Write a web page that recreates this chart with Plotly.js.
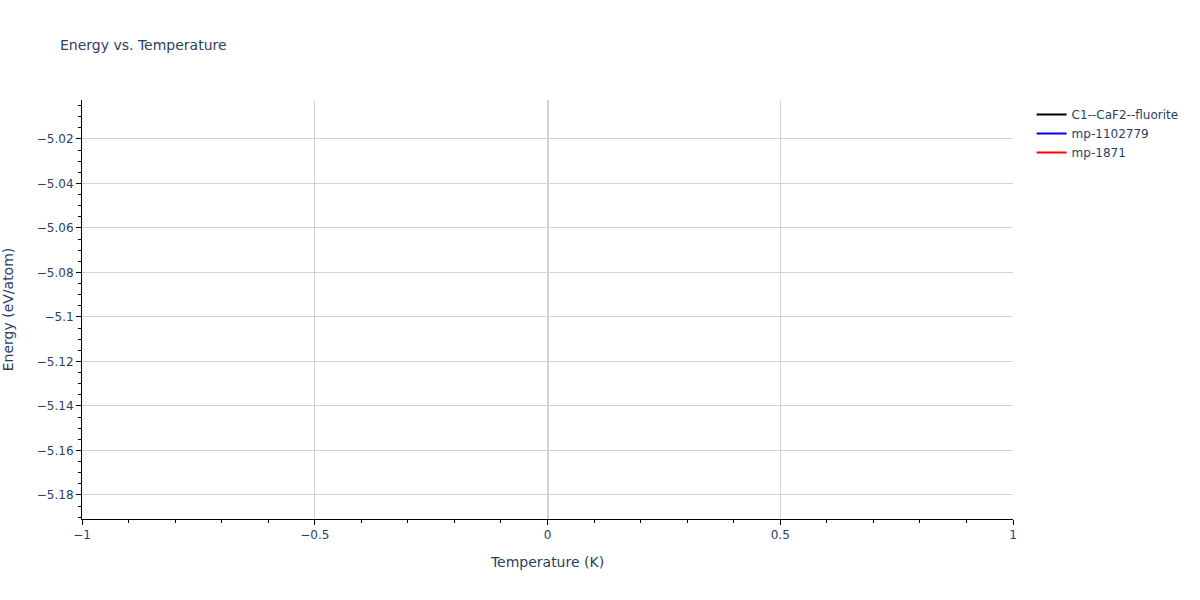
<!DOCTYPE html>
<html>
<head>
<meta charset="utf-8">
<script src="https://cdn.plot.ly/plotly-3.0.1.min.js"></script>
<style>body{margin:0}#chart{width:1200px;height:600px}</style>
</head>
<body>
<div id="chart"></div>
<script>
// one point per structure at T = 0, so the lines have nothing to draw
const names = ['C1--CaF2--fluorite', 'mp-1102779', 'mp-1871']
const colors = ['black', 'blue', 'red']
const temperatures = [[0], [0], [0]]
const energies = [[-5.0119], [-5.0964], [-5.1814]]

const traces = names.map((name, i) => ({
  x: temperatures[i],
  y: energies[i],
  mode: 'lines',
  name: name,
  line: { color: colors[i] }
}))

const ink = '#2a3f5f'
const font = { family: '"DejaVu Sans", verdana, arial, sans-serif', size: 12, color: ink }

Plotly.newPlot('chart', traces, {
  width: 1200,
  height: 600,
  font: font,
  title: { text: 'Energy vs. Temperature', x: 0.05, font: { size: 14, color: ink } },
  paper_bgcolor: 'white',
  plot_bgcolor: 'white',
  margin: { t: 100, b: 81, l: 82, r: 187, autoexpand: false },
  showlegend: true,
  legend: { font: { color: ink } },
  xaxis: {
    title: { text: 'Temperature (K)', font: { size: 14 }, standoff: 15 },
    range: [-1, 1],
    showline: true, linecolor: 'black', mirror: false,
    ticks: 'outside', tickcolor: 'black',
    gridcolor: 'lightgray', zeroline: true, zerolinecolor: 'lightgray', zerolinewidth: 2,
    minor: { ticks: 'outside', tickcolor: 'black', dtick: 0.1, showgrid: false }
  },
  yaxis: {
    title: { text: 'Energy (eV/atom)', font: { size: 14 }, standoff: 26 },
    range: [-5.1908, -5.0025],
    showline: true, linecolor: 'black',
    ticks: 'outside', tickcolor: 'black',
    gridcolor: 'lightgray', zeroline: true, zerolinecolor: 'lightgray',
    minor: { ticks: 'outside', tickcolor: 'black', dtick: 0.005, showgrid: false }
  }
}, { displayModeBar: false })
</script>
</body>
</html>
